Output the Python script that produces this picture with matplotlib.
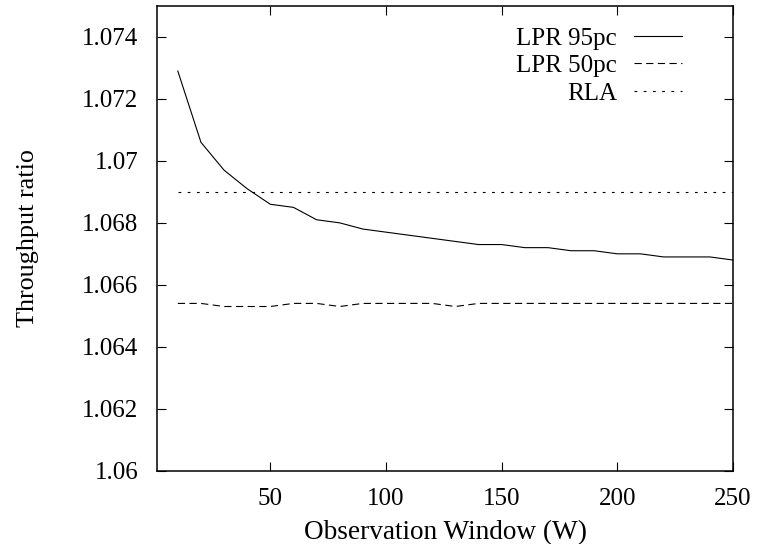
import matplotlib
matplotlib.use("Agg")
import matplotlib.pyplot as plt

window = [10, 20, 30, 40, 50, 60, 70, 80, 90, 100, 110, 120, 130, 140, 150,
          160, 170, 180, 190, 200, 210, 220, 230, 240, 250]
lpr95 = [1.0729, 1.0706, 1.0697, 1.0691, 1.0686, 1.0685, 1.0681, 1.0680, 1.0678,
         1.0677, 1.0676, 1.0675, 1.0674, 1.0673, 1.0673, 1.0672, 1.0672, 1.0671,
         1.0671, 1.0670, 1.0670, 1.0669, 1.0669, 1.0669, 1.0668]
lpr50 = [1.0654, 1.0654, 1.0653, 1.0653, 1.0653, 1.0654, 1.0654, 1.0653, 1.0654,
         1.0654, 1.0654, 1.0654, 1.0653, 1.0654, 1.0654, 1.0654, 1.0654, 1.0654,
         1.0654, 1.0654, 1.0654, 1.0654, 1.0654, 1.0654, 1.0654]
rla = [1.0690] * len(window)
labels = ["LPR 95pc", "LPR 50pc", "RLA"]
xticks = [50, 100, 150, 200, 250]
yticks = [1.060, 1.062, 1.064, 1.066, 1.068, 1.070, 1.072, 1.074]
yticklabels = ["1.06", "1.062", "1.064", "1.066", "1.068", "1.07", "1.072", "1.074"]

plt.rcParams['font.family'] = ['Liberation Serif', 'DejaVu Serif']
plt.rcParams['font.size'] = 18

fig = plt.figure(figsize=(7.57, 5.44), dpi=100)
ax = fig.add_axes([157/757, 1 - 470.7/544, (733-157)/757, (470.7-6)/544])

lw = 0.8
ax.plot(window, lpr95, color='black', lw=lw, label=labels[0])
ax.plot(window, lpr50, color='black', lw=lw, dashes=(6.5, 4), label=labels[1])
ax.plot(window, rla, color='black', lw=lw, dashes=(2.5, 5.8), label=labels[2])

ax.set_xlim(1, 250)
ax.set_ylim(1.06, 1.075)
ax.set_xticks(xticks)
ax.set_yticks(yticks)
ax.set_yticklabels(yticklabels)
ax.tick_params(direction='in', length=6.5, width=0.8, top=True, right=True,
               labelsize=18)
ax.tick_params(axis='y', pad=13.5)
ax.tick_params(axis='x', pad=12.5)
for s in ax.spines.values():
    s.set_linewidth(1.1)

ax.set_xlabel("Observation Window (W)", fontsize=19.6, labelpad=7)
ax.set_ylabel("Throughput ratio", fontsize=18.8, labelpad=31)

leg = ax.legend(loc='upper right', bbox_to_anchor=(682/757, 1 - 27/544),
                bbox_transform=fig.transFigure, frameon=False, markerfirst=False,
                handlelength=1.92, handletextpad=0.68, labelspacing=0.2,
                borderpad=0, borderaxespad=0, fontsize=18)

fig.savefig("out.png", dpi=100)
